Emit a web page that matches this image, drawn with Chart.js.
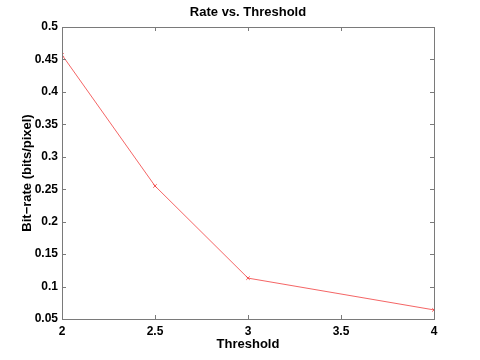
<!DOCTYPE html>
<html>
<head>
<meta charset="utf-8">
<script src="https://cdn.jsdelivr.net/npm/chart.js@4/dist/chart.umd.min.js"></script>
<style>
  html, body { margin: 0; padding: 0; background: #fff; }
  #wrap { width: 480px; height: 360px; }
</style>
</head>
<body>
<div id="wrap"><canvas id="myChart" width="480" height="360"></canvas></div>
<script>
// values
let thresholds = [2, 2.5, 3, 4];
let bitRates = [0.457, 0.255, 0.113, 0.064];
let xTicks = [2, 2.5, 3, 3.5, 4];
let yTicks = [0.05, 0.1, 0.15, 0.2, 0.25, 0.3, 0.35, 0.4, 0.45, 0.5];

let points = thresholds.map(function (t, i) {
  return { x: t, y: bitRates[i] };
});

let fontFamily = "'Liberation Sans', Arial, Helvetica, sans-serif";
let lineColor = "rgba(240, 50, 50, 0.75)";

// matlab-like box with inward ticks, title centred over the axes
let boxPlugin = {
  id: "matlabBox",
  afterLayout: function (chart) {
    if (chart.titleBlock) {
      chart.titleBlock.left = chart.chartArea.left;
      chart.titleBlock.right = chart.chartArea.right;
    }
  },
  afterDraw: function (chart) {
    let ctx = chart.ctx;
    let a = chart.chartArea;
    let xs = chart.scales.x;
    let ys = chart.scales.y;
    let len = 4;
    ctx.save();
    ctx.strokeStyle = "#7a7a7a";
    ctx.lineWidth = 1;
    ctx.strokeRect(a.left + 0.5, a.top + 0.5, a.right - a.left, a.bottom - a.top);
    ctx.beginPath();
    xTicks.forEach(function (v) {
      let px = Math.round(xs.getPixelForValue(v)) + 0.5;
      ctx.moveTo(px, a.bottom);
      ctx.lineTo(px, a.bottom - len);
      ctx.moveTo(px, a.top);
      ctx.lineTo(px, a.top + len);
    });
    yTicks.forEach(function (v) {
      let py = Math.round(ys.getPixelForValue(v)) + 0.5;
      ctx.moveTo(a.left, py);
      ctx.lineTo(a.left + len, py);
      ctx.moveTo(a.right, py);
      ctx.lineTo(a.right - len, py);
    });
    ctx.stroke();
    ctx.restore();
  }
};

new Chart("myChart", {
  type: "line",
  data: {
    datasets: [{
      data: points,
      borderColor: lineColor,
      borderWidth: 1,
      pointStyle: "crossRot",
      pointRadius: 2.5,
      pointBorderColor: lineColor,
      pointBorderWidth: 1,
      fill: false,
      tension: 0
    }]
  },
  options: {
    responsive: false,
    animation: false,
    layout: { padding: { left: 0, right: 46, top: 0, bottom: 0 } },
    plugins: {
      legend: { display: false },
      tooltip: { enabled: false },
      title: {
        display: true,
        text: "Rate vs. Threshold",
        color: "#000",
        font: { family: fontFamily, size: 13, weight: "bold" },
        padding: { top: 5, bottom: 6.4 }
      }
    },
    scales: {
      x: {
        type: "linear",
        min: 2,
        max: 4,
        afterFit: function (scale) { scale.height = 41; },
        afterBuildTicks: function (scale) {
          scale.ticks = xTicks.map(function (v) { return { value: v }; });
        },
        grid: { display: false, drawTicks: false },
        border: { display: false },
        ticks: {
          color: "#000",
          padding: 5,
          maxRotation: 0,
          font: { family: fontFamily, size: 12, weight: "bold" },
          callback: function (v) { return String(Number(v.toFixed(2))); }
        },
        title: {
          display: true,
          text: "Threshold",
          color: "#000",
          font: { family: fontFamily, size: 13, weight: "bold" },
          padding: { top: 0, bottom: 8 }
        }
      },
      y: {
        type: "linear",
        min: 0.05,
        max: 0.5,
        afterFit: function (scale) { scale.width = 62; },
        afterBuildTicks: function (scale) {
          scale.ticks = yTicks.map(function (v) { return { value: v }; });
        },
        grid: { display: false, drawTicks: false },
        border: { display: false },
        ticks: {
          color: "#000",
          padding: 4,
          font: { family: fontFamily, size: 12, weight: "bold" },
          callback: function (v) { return String(Number(v.toFixed(2))); }
        },
        title: {
          display: true,
          text: "Bit\u2212rate (bits/pixel)",
          color: "#000",
          font: { family: fontFamily, size: 13, weight: "bold" },
          padding: { top: 20, bottom: 0 }
        }
      }
    }
  },
  plugins: [boxPlugin]
});
</script>
</body>
</html>
